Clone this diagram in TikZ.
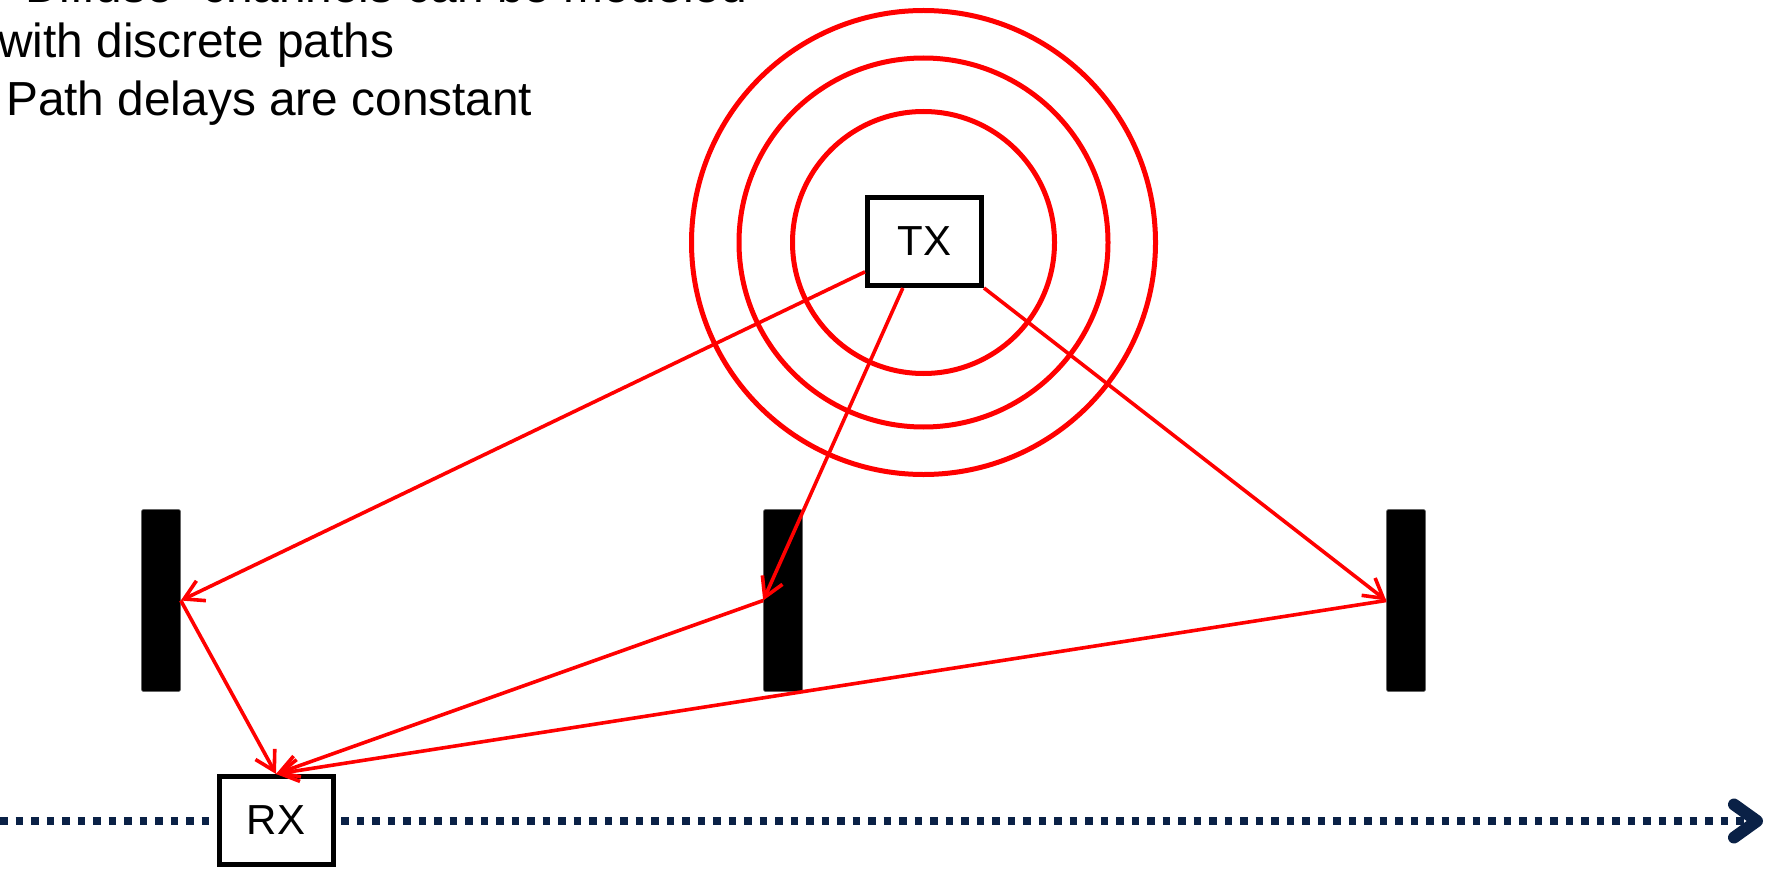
\documentclass[tikz,border=0pt]{standalone}
\usepackage{fontspec}
\setmainfont{Liberation Sans}
\usetikzlibrary{arrows.meta}
\definecolor{navy}{RGB}{10,33,70}
\definecolor{pred}{RGB}{255,0,0}
\tikzset{
  txt/.style={anchor=base west, inner sep=0pt, font=\fontsize{47.8}{57}\selectfont},
  station/.style={draw=black, line width=5pt, fill=white, minimum width=114pt, minimum height=88pt, inner sep=0pt, font=\fontsize{42}{50}\selectfont},
  wall/.style={fill=black, draw=black!60, line width=0.6pt, rounded corners=2pt, minimum width=39pt, minimum height=182pt, inner sep=0pt},
  wave/.style={draw=pred, line width=5pt},
  ray/.style={draw=pred, line width=3.6pt, -{Straight Barb[length=19pt, width=22pt]}},
  track/.style={draw=navy, line width=7.5pt, dash pattern=on 7.5pt off 8pt, -{Straight Barb[length=23pt, width=33pt, round, line width=12pt]}}
}
\begin{document}
\begin{tikzpicture}[x=1pt, y=-1pt]
\useasboundingbox (0,0) rectangle (1769,869);
% text
\node[txt] (t1) at (9,3) {“Diffuse” channels can be modeled};
\node[txt] (t2) at (-2,58) {with discrete paths};
\node[txt] (t3) at (6,116) {Path delays are constant};
% waves
\coordinate (c) at (923.5,242.5);
\draw[wave] (c) circle[radius=131pt];
\draw[wave] (c) circle[radius=184.5pt];
\draw[wave] (c) circle[radius=232pt];
% track
\coordinate (L) at (0,821);
\coordinate (R) at (1763,821);
\draw[track] (L) -- (R);
% walls
\node[wall] (b1) at (161,600.5) {};
\node[wall] (b2) at (783,600.5) {};
\node[wall] (b3) at (1406,600.5) {};
% stations
\node[station] (TX) at (924.5,241.5) {TX};
\node[station] (RX) at (276,820.5) {RX};
% rays
\draw[ray] (TX.207) -- (b1.east);
\draw[ray] (TX.245) -- (b2.west);
\draw[ray] (TX.south east) -- (b3.west);
\draw[ray] (b1.east) -- (RX.north);
\draw[ray] (b2.west) -- (RX.north);
\draw[ray] (b3.west) -- (RX.north);
\end{tikzpicture}
\end{document}
